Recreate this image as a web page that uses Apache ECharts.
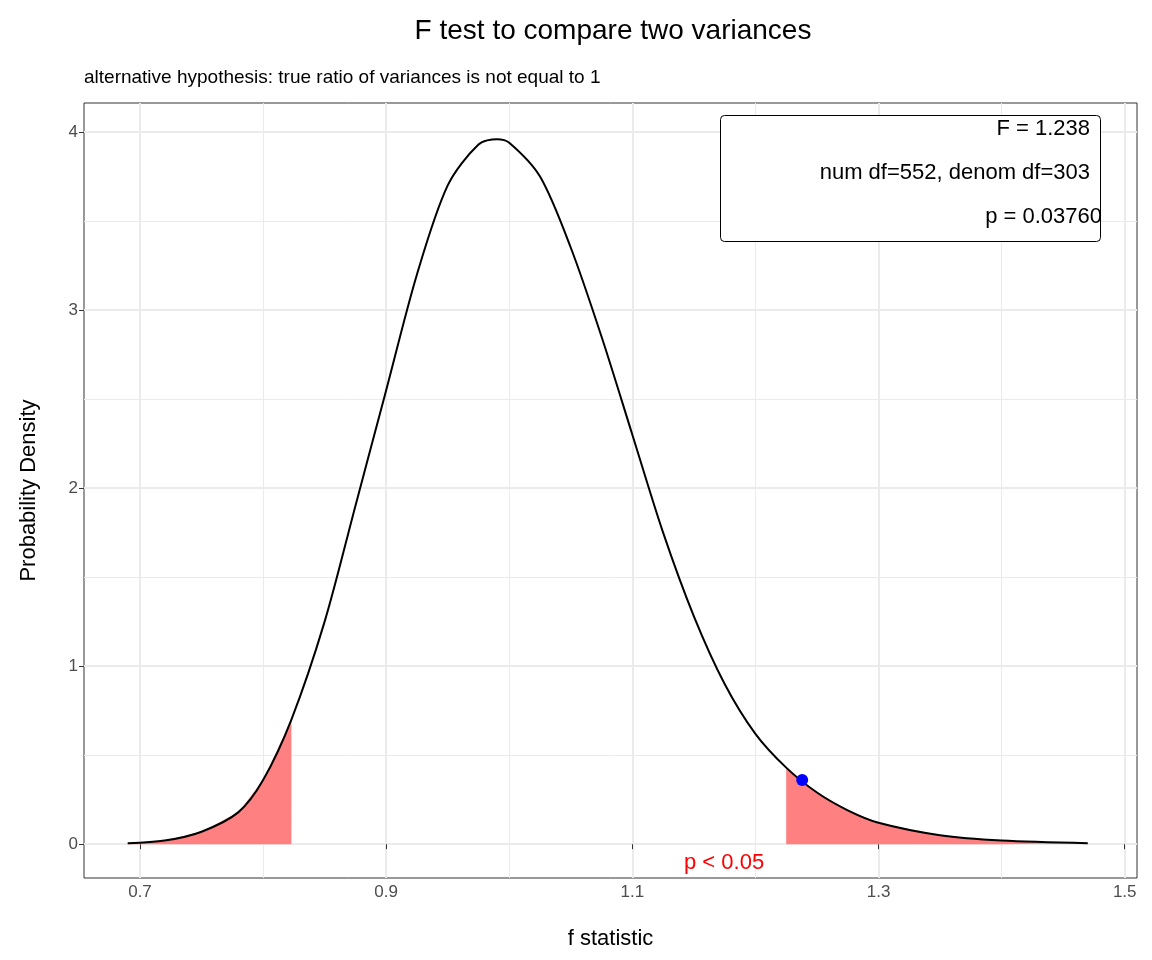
<!DOCTYPE html>
<html>
<head>
<meta charset="utf-8">
<script src="https://cdn.jsdelivr.net/npm/echarts@6/dist/echarts.min.js"></script>
<style>html,body{margin:0;padding:0;background:#fff}#chart{width:1152px;height:960px}</style>
</head>
<body>
<div id="chart"></div>
<script>
// curve
const fX = [0.69, 0.72, 0.75, 0.78, 0.80, 0.823, 0.85, 0.875, 0.90, 0.925, 0.95, 0.975, 0.99, 1.00, 1.025, 1.05, 1.075, 1.10, 1.125, 1.15, 1.175, 1.20, 1.225, 1.25, 1.275, 1.30, 1.35, 1.40, 1.47]
const density = [0.005, 0.02, 0.07, 0.18, 0.36, 0.70, 1.25, 1.9, 2.55, 3.2, 3.7, 3.93, 3.96, 3.94, 3.75, 3.35, 2.85, 2.3, 1.75, 1.28, 0.9, 0.62, 0.43, 0.29, 0.19, 0.12, 0.05, 0.02, 0.005]
const lowerCut = 0.823
const upperCut = 1.225
const fValue = 1.238
const fDensity = 0.36
const xMajor = [0.7, 0.9, 1.1, 1.3, 1.5]
const xMinor = [0.8, 1.0, 1.2, 1.4]
const yMajor = [0, 1, 2, 3, 4]
const yMinor = [0.5, 1.5, 2.5, 3.5]

const curve = fX.map((x, i) => [x, density[i]])
const lowerTail = curve.filter(p => p[0] <= lowerCut)
const upperTail = curve.filter(p => p[0] >= upperCut)

const gridLines = (vals, axis, w) => vals.map(v => ({ [axis]: v, lineStyle: { color: "#ebebeb", width: w, type: "solid" } }))

let myChart = echarts.init(document.getElementById("chart"))
myChart.setOption({
  animation: false,
  textStyle: { fontFamily: "Liberation Sans, Arial, sans-serif" },
  title: [
    { text: "F test to compare two variances", left: 608, textAlign: "center", top: 12, textStyle: { fontSize: 28, fontWeight: "normal", color: "#000" } },
    { text: "alternative hypothesis: true ratio of variances is not equal to 1", left: 79, top: 63, textStyle: { fontSize: 19, fontWeight: "normal", color: "#000" } }
  ],
  grid: { left: 84, right: 15, top: 103, bottom: 82, show: true, borderColor: "#333", borderWidth: 1, z: 0 },
  xAxis: {
    type: "value", min: 0.6545, max: 1.51,
    name: "f statistic", nameLocation: "middle", nameGap: 50,
    nameTextStyle: { fontSize: 22, color: "#000" },
    axisLine: { show: false }, splitLine: { show: false },
    axisTick: { show: true, customValues: xMajor, length: 5, lineStyle: { color: "#333" } },
    axisLabel: { customValues: xMajor, fontSize: 17, color: "#4d4d4d", margin: 6, formatter: v => v.toFixed(1) }
  },
  yAxis: {
    type: "value", min: -0.19, max: 4.163,
    name: "Probability Density", nameLocation: "middle", nameGap: 44,
    nameTextStyle: { fontSize: 22, color: "#000" },
    axisLine: { show: false }, splitLine: { show: false },
    axisTick: { show: true, customValues: yMajor, length: 5, lineStyle: { color: "#333" } },
    axisLabel: { customValues: yMajor, fontSize: 17, color: "#4d4d4d", margin: 6 }
  },
  series: [
    {
      type: "line", data: [], silent: true, z: 0,
      markLine: {
        symbol: "none", silent: true, label: { show: false }, z: 0,
        data: [...gridLines(xMinor, "xAxis", 1), ...gridLines(yMinor, "yAxis", 1),
               ...gridLines(xMajor.filter(v => v < 1.51), "xAxis", 2), ...gridLines(yMajor, "yAxis", 2)]
      }
    },
    { type: "line", z: 2, data: lowerTail, showSymbol: false, lineStyle: { width: 0 }, areaStyle: { color: "#ff8080", opacity: 1, origin: 0 } },
    { type: "line", z: 2, data: upperTail, showSymbol: false, lineStyle: { width: 0 }, areaStyle: { color: "#ff8080", opacity: 1, origin: 0 } },
    { type: "line", z: 3, data: curve, smooth: 0.3, showSymbol: false, lineStyle: { color: "#000", width: 2 } },
    { type: "scatter", z: 4, data: [[fValue, fDensity]], symbolSize: 12, itemStyle: { color: "#0000ff", opacity: 1 } }
  ],
  graphic: [
    { type: "rect", z: 100, left: 720, top: 115, shape: { width: 380, height: 126, r: 4 }, style: { fill: "#fff", stroke: "#000", lineWidth: 1 } },
    { type: "text", z: 101, right: 1152 - 1090, top: 118, style: { text: "F = 1.238", fontSize: 22, fill: "#000", align: "right" } },
    { type: "text", z: 101, right: 1152 - 1090, top: 162, style: { text: "num df=552, denom df=303", fontSize: 22, fill: "#000", align: "right" } },
    { type: "text", z: 101, right: 1152 - 1102, top: 206, style: { text: "p = 0.03760", fontSize: 22, fill: "#000", align: "right" } },
    { type: "text", z: 101, left: 684, top: 852, style: { text: "p < 0.05", fontSize: 22, fill: "#ff0000" } }
  ]
})
</script>
</body>
</html>
